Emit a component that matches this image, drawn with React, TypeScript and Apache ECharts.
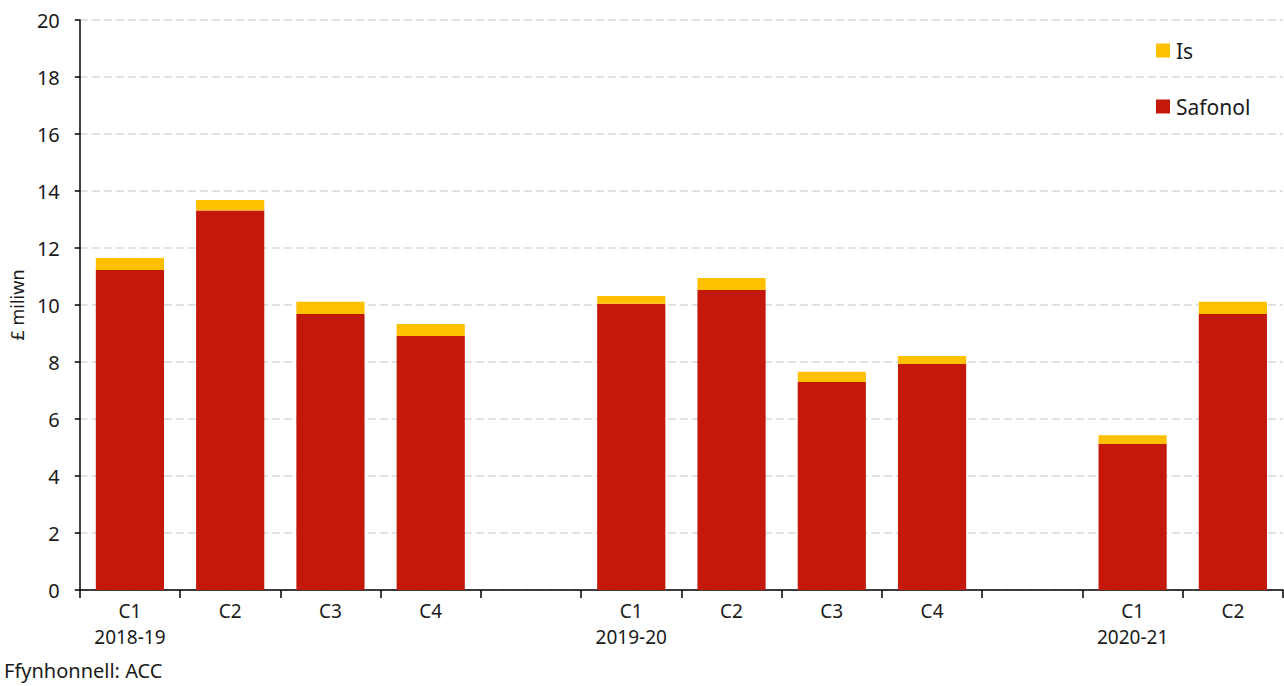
import React, { useEffect, useRef } from "react";
import * as echarts from "echarts";

const categories = ["C1\n2018-19", "C2", "C3", "C4", "", "C1\n2019-20", "C2", "C3", "C4", "", "C1\n2020-21", "C2"];
const safonol = [11.23, 13.32, 9.68, 8.91, null, 10.04, 10.53, 7.30, 7.93, null, 5.12, 9.68];
const isValues = [0.42, 0.36, 0.43, 0.42, null, 0.28, 0.42, 0.36, 0.28, null, 0.31, 0.43];
const yTicks = { min: 0, max: 20, interval: 2 };
const yAxisName = "£ miliwn";
const sourceText = "Ffynhonnell: ACC";

const FONT = "'Noto Sans', sans-serif";

export default function App() {
  const ref = useRef<HTMLDivElement>(null);
  useEffect(() => {
    document.body.style.margin = "0";
    const chart = echarts.init(ref.current!, undefined, { renderer: "svg" });
    chart.setOption({
      animation: false,
      textStyle: { fontFamily: FONT, color: "#1a1a1a" },
      grid: { left: 77, right: 1, top: 20, bottom: 96 },
      legend: {
        orient: "vertical",
        left: 1151,
        top: 35,
        itemWidth: 14,
        itemHeight: 14,
        itemGap: 35,
        icon: "rect",
        data: ["Is", "Safonol"],
        textStyle: { fontFamily: FONT, fontSize: 21, color: "#1a1a1a", padding: [0, 0, 0, 1] },
      },
      xAxis: {
        type: "category",
        data: categories,
        axisLine: { lineStyle: { color: "#000", width: 1.5 } },
        axisTick: { show: true, interval: 0, length: 8, lineStyle: { color: "#000", width: 1.5 } },
        axisLabel: { interval: 0, fontSize: 19, color: "#1a1a1a", lineHeight: 26, margin: 8, fontFamily: FONT },
      },
      yAxis: {
        type: "value",
        min: yTicks.min,
        max: yTicks.max,
        interval: yTicks.interval,
        name: yAxisName,
        nameLocation: "middle",
        nameGap: 52,
        nameTextStyle: { fontSize: 18, color: "#1a1a1a", fontFamily: FONT },
        axisLine: { show: true, lineStyle: { color: "#000", width: 1.5 } },
        axisTick: { show: true, length: 5, lineStyle: { color: "#000", width: 1.5 } },
        axisLabel: { fontSize: 20, color: "#1a1a1a", margin: 20, fontFamily: FONT },
        splitLine: { lineStyle: { color: "#d9d9d9", width: 1.5, type: [8, 4] } },
      },
      series: [
        {
          name: "Safonol",
          type: "bar",
          stack: "total",
          data: safonol,
          barCategoryGap: "32%",
          itemStyle: { color: "#C4180A" },
        },
        {
          name: "Is",
          type: "bar",
          stack: "total",
          data: isValues,
          itemStyle: { color: "#FFC000" },
        },
      ],
      graphic: [
        {
          type: "text",
          left: 4,
          top: 660,
          style: { text: sourceText, fontSize: 20, fill: "#1a1a1a", fontFamily: FONT },
        },
      ],
    });
    return () => chart.dispose();
  }, []);
  return <div ref={ref} style={{ width: 1284, height: 686 }} />;
}
